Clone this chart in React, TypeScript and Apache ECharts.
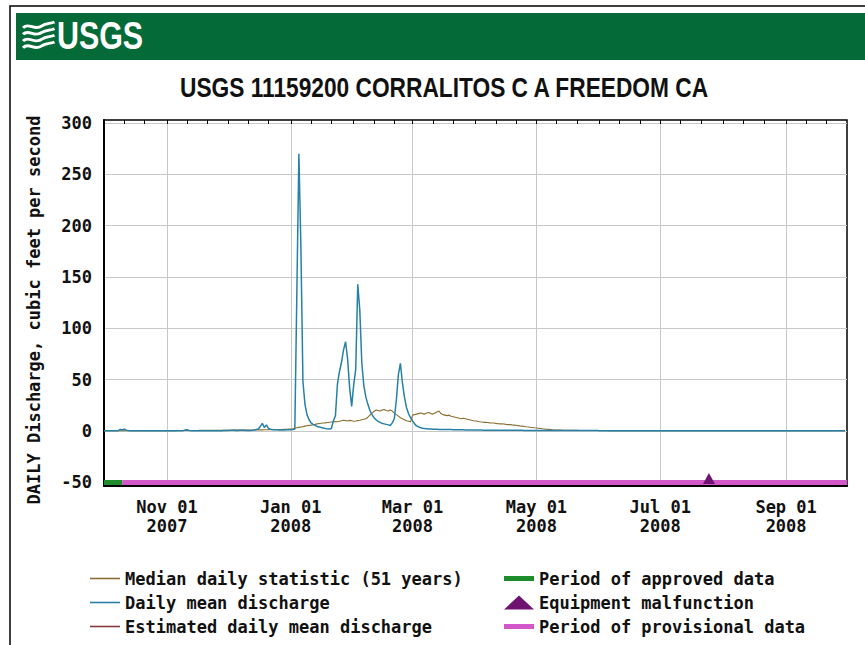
import React, { useEffect, useRef } from "react";
import * as echarts from "echarts";

// ---- Data (daily values, water year Oct 2007 – Sep 2008) ----
const DAY = 86400000;
const START = Date.UTC(2007, 9, 1);
const END = Date.UTC(2008, 9, 1);

// Daily mean discharge (cfs), by month
const meanOct = [0.3,0.3,0.3,0.3,0.3,0.3,0.3,0.4,1.6,1.2,1.8,0.9,0.5,0.4,0.4,0.3,0.3,0.3,0.3,0.3,0.3,0.3,0.3,0.3,0.3,0.3,0.3,0.3,0.3,0.3,0.3];
const meanNov = [0.3,0.3,0.3,0.3,0.3,0.3,0.3,0.3,0.4,1.0,1.4,0.6,0.4,0.3,0.3,0.3,0.3,0.3,0.3,0.3,0.3,0.3,0.3,0.3,0.3,0.3,0.3,0.4,0.5,0.6];
const meanDec = [0.6,0.7,0.8,0.7,0.6,0.6,0.7,0.8,0.7,0.6,0.6,0.6,0.7,1.0,1.5,2.0,4.5,7.5,3.5,6.0,2.5,1.8,1.5,1.3,1.2,1.1,1.0,1.0,1.0,1.2,1.4];
const meanJan = [1.2,1.5,2.0,135,270,178,48,26,16,11,8,6.5,5.5,4.5,4,3.5,3,2.5,2.2,2,2.5,10,15,46,58,67,79,87,70,42,24];
const meanFeb = [45,60,143,118,66,44,33,26,20,16,13,11,9.5,8.5,7.5,7,6.5,6,5.5,8,12,30,55,66,47,33,23,17,13];
const meanMar = [10,7,5,4,3.3,2.8,2.4,2.2,2.0,1.9,1.8,1.7,1.65,1.6,1.55,1.5,1.5,1.45,1.4,1.4,1.35,1.3,1.3,1.25,1.2,1.2,1.15,1.1,1.1,1.05,1.0];
const meanApr = [1.0,1.0,0.95,0.95,0.9,0.9,0.9,0.85,0.85,0.85,0.8,0.8,0.8,0.8,0.75,0.75,0.75,0.75,0.7,0.7,0.7,0.7,0.7,0.7,0.65,0.65,0.65,0.65,0.65,0.6];
const meanMay = [0.6,0.6,0.6,0.6,0.6,0.55,0.55,0.55,0.55,0.55,0.55,0.5,0.5,0.5,0.5,0.5,0.5,0.5,0.5,0.5,0.5,0.45,0.45,0.45,0.45,0.45,0.45,0.45,0.45,0.45,0.45];
const meanJun = [0.4,0.4,0.4,0.4,0.4,0.4,0.4,0.4,0.4,0.4,0.4,0.4,0.4,0.4,0.4,0.4,0.4,0.4,0.4,0.4,0.35,0.35,0.35,0.35,0.35,0.35,0.35,0.35,0.35,0.35];
const meanJul = [0.35,0.35,0.35,0.35,0.35,0.35,0.35,0.35,0.35,0.35,0.3,0.3,0.3,0.3,0.3,0.3,0.3,0.3,0.3,0.3,0.3,0.3,0.3,0.3,0.3,0.3,0.3,0.3,0.3,0.3,0.3];
const meanAug = [0.3,0.3,0.3,0.3,0.3,0.3,0.3,0.3,0.3,0.3,0.3,0.3,0.3,0.3,0.3,0.25,0.25,0.25,0.25,0.25,0.25,0.25,0.25,0.25,0.25,0.25,0.25,0.25,0.25,0.25,0.25];
const meanSep = [0.25,0.25,0.25,0.25,0.25,0.25,0.25,0.25,0.25,0.25,0.25,0.25,0.25,0.25,0.25,0.25,0.25,0.25,0.25,0.25,0.25,0.25,0.25,0.25,0.25,0.25,0.25,0.25,0.25,0.25];

// Median daily statistic (51 years), by month
const medOct = [0.3,0.3,0.3,0.3,0.3,0.3,0.3,0.3,0.3,0.3,0.3,0.3,0.3,0.3,0.3,0.35,0.35,0.35,0.35,0.35,0.35,0.35,0.4,0.4,0.4,0.4,0.4,0.4,0.4,0.4,0.4];
const medNov = [0.4,0.4,0.45,0.45,0.45,0.5,0.5,0.5,0.5,0.55,0.55,0.55,0.6,0.6,0.6,0.6,0.65,0.65,0.65,0.7,0.7,0.7,0.7,0.75,0.75,0.75,0.8,0.8,0.8,0.8];
const medDec = [0.8,0.85,0.85,0.9,0.9,0.9,0.95,0.95,1.0,1.0,1.0,1.05,1.1,1.1,1.1,1.15,1.2,1.2,1.25,1.3,1.3,1.35,1.4,1.4,1.45,1.5,1.55,1.6,1.7,1.8,1.9];
const medJan = [2.0,2.3,2.8,3.2,3.6,4.0,4.3,4.8,5.2,5.5,5.8,6.2,6.5,7.0,7.3,7.6,7.8,8.0,8.3,8.6,8.8,9.0,9.2,9.0,9.5,10.0,10.5,10.2,9.8,10.4,10.0];
const medFeb = [9.5,9.8,10.2,10.5,11.0,11.5,12.0,13.5,15.5,17.5,19.0,20.5,20.0,19.5,20.5,21.0,20.0,19.5,20.5,19.5,17.5,16.0,14.5,13.0,12.0,11.0,10.0,9.5,9.0];
const medMar = [15.5,16.0,16.5,17.0,17.5,17.0,16.5,17.5,18.0,17.0,16.5,17.5,18.5,19.5,17.0,16.0,15.5,15.0,15.5,14.5,14.0,13.5,13.0,12.5,12.0,12.5,12.0,11.5,11.0,10.5,10.0];
const medApr = [9.8,9.5,9.0,8.8,8.5,8.6,8.3,8.0,7.8,7.9,7.5,7.2,7.0,7.1,6.8,6.5,6.3,6.4,6.0,5.8,5.6,5.3,5.0,4.8,4.5,4.2,4.0,3.7,3.5,3.2];
const medMay = [3.0,2.8,2.5,2.2,2.0,1.8,1.6,1.4,1.2,1.1,1.0,0.95,0.9,0.85,0.8,0.8,0.75,0.7,0.7,0.65,0.65,0.6,0.6,0.6,0.55,0.55,0.5,0.5,0.5,0.5,0.5];
const medJun = [0.5,0.5,0.5,0.5,0.5,0.45,0.45,0.45,0.45,0.45,0.45,0.45,0.45,0.45,0.45,0.4,0.4,0.4,0.4,0.4,0.4,0.4,0.4,0.4,0.4,0.4,0.4,0.4,0.4,0.4];
const medJul = [0.4,0.4,0.4,0.4,0.4,0.35,0.35,0.35,0.35,0.35,0.35,0.35,0.35,0.35,0.35,0.35,0.35,0.35,0.35,0.35,0.3,0.3,0.3,0.3,0.3,0.3,0.3,0.3,0.3,0.3,0.3];
const medAug = [0.3,0.3,0.3,0.3,0.3,0.3,0.3,0.3,0.3,0.3,0.3,0.3,0.3,0.3,0.3,0.3,0.3,0.3,0.3,0.3,0.3,0.3,0.3,0.3,0.3,0.3,0.3,0.3,0.3,0.3,0.3];
const medSep = [0.3,0.3,0.3,0.3,0.3,0.3,0.3,0.3,0.3,0.3,0.3,0.3,0.3,0.3,0.3,0.3,0.3,0.3,0.3,0.3,0.3,0.3,0.3,0.3,0.3,0.3,0.3,0.3,0.3,0.3];

// Data-status periods and events
const approvedPeriod = ["2007-10-01", "2007-10-10"];
const provisionalPeriod = ["2007-10-10", "2008-10-01"];
const malfunctionDates = ["2008-07-25"];
const statusLevel = -50;

// Axis ticks / labels
const xLabelDates = ["2007-11-01", "2008-01-01", "2008-03-01", "2008-05-01", "2008-07-01", "2008-09-01"];
const xLabelTexts = ["Nov 01\n2007", "Jan 01\n2008", "Mar 01\n2008", "May 01\n2008", "Jul 01\n2008", "Sep 01\n2008"];
const minorTickDays = [1, 11, 21];
const yTickValues = [-50, 0, 50, 100, 150, 200, 250, 300];

const chartTitle = "USGS 11159200 CORRALITOS C A FREEDOM CA";
const yAxisTitle = "DAILY Discharge, cubic feet per second";
const legendLeft = ["Median daily statistic (51 years)", "Daily mean discharge", "Estimated daily mean discharge"];
const legendRight = ["Period of approved data", "Equipment malfunction", "Period of provisional data"];

const ts = (s: string) => {
  const [y, m, d] = s.split("-").map(Number);
  return Date.UTC(y, m - 1, d);
};

const toSeries = (vals: number[]) => vals.map((v, i) => [START + i * DAY, v]);

const MONO = "'DejaVu Sans Mono', 'Liberation Mono', monospace";
const SANS = "'Liberation Sans', Arial, sans-serif";
const THIN_ICON = "path://M0,0 L30,0 L30,1.6 L0,1.6 Z";
const THICK_ICON = "path://M0,0 L30,0 L30,5 L0,5 Z";

export default function App() {
  const ref = useRef<HTMLDivElement>(null);

  useEffect(() => {
    if (!ref.current) return;
    echarts.graphic.registerShape(
      "usgsWaves",
      echarts.graphic.extendPath(
        "M0,6 C6,0 11,10 18,4 C22,1 26,2 30,0 M0,13 C6,7 11,17 18,11 C22,8 26,9 30,7 M0,20 C6,14 11,24 18,18 C22,15 26,16 30,14 M0,27 C6,21 11,31 18,25 C22,22 26,23 30,21",
        {}
      )
    );
    const chart = echarts.init(ref.current, undefined, { renderer: "svg" });

    const meanAll = [
      ...meanOct, ...meanNov, ...meanDec, ...meanJan, ...meanFeb, ...meanMar,
      ...meanApr, ...meanMay, ...meanJun, ...meanJul, ...meanAug, ...meanSep,
    ];
    const medAll = [
      ...medOct, ...medNov, ...medDec, ...medJan, ...medFeb, ...medMar,
      ...medApr, ...medMay, ...medJun, ...medJul, ...medAug, ...medSep,
    ];

    const minorTicks: number[] = [];
    for (let k = 0; k < 12; k++) {
      for (const d of minorTickDays) minorTicks.push(Date.UTC(2007, 9 + k, d));
    }
    const labelVals = xLabelDates.map(ts);

    const tickAxis = (position: "top" | "bottom") => ({
      type: "value",
      position,
      min: START,
      max: END,
      axisLine: { show: false, onZero: false },
      axisLabel: { show: false },
      splitLine: { show: false },
      axisTick: {
        show: true,
        inside: true,
        length: 4,
        customValues: minorTicks,
        lineStyle: { color: "#000", width: 1 },
      },
    });

    const legendText = { fontFamily: MONO, fontWeight: "bold", fontSize: 17, lineHeight: 17, color: "#111" };

    const option: any = {
      animation: false,
      backgroundColor: "#fff",
      grid: {
        left: 104,
        right: 18,
        top: 120,
        bottom: 645 - 486,
        show: true,
        borderColor: "#000",
        borderWidth: 1.5,
        backgroundColor: "#fff",
      },
      xAxis: [
        {
          type: "value",
          position: "bottom",
          min: START,
          max: END,
          axisLine: { show: true, onZero: false, lineStyle: { color: "#000", width: 2 } },
          axisTick: { show: false, customValues: labelVals },
          axisLabel: {
            customValues: labelVals,
            margin: 11,
            fontFamily: MONO,
            fontWeight: "bold",
            fontSize: 17,
            lineHeight: 19,
            color: "#111",
            formatter: (v: number) => {
              const i = labelVals.indexOf(v);
              return i >= 0 ? xLabelTexts[i] : "";
            },
          },
          splitLine: { show: true, lineStyle: { color: "#c8c8c8", width: 1 } },
        },
        tickAxis("bottom"),
        tickAxis("top"),
      ],
      yAxis: {
        type: "value",
        min: -53.5,
        max: 302.9,
        axisLine: { show: true, onZero: false, lineStyle: { color: "#000", width: 2 } },
        axisTick: { show: false, customValues: yTickValues },
        axisLabel: {
          customValues: yTickValues,
          margin: 12,
          fontFamily: MONO,
          fontWeight: "bold",
          fontSize: 17,
          color: "#111",
        },
        splitLine: { show: true, lineStyle: { color: "#c8c8c8", width: 1 } },
      },
      legend: [
        {
          data: legendLeft.map((name) => ({ name, icon: THIN_ICON })),
          orient: "vertical",
          left: 85,
          top: 565,
          itemWidth: 30,
          itemHeight: 14,
          itemGap: 7,
          selectedMode: false,
          textStyle: legendText,
        },
        {
          data: [
            { name: legendRight[0], icon: THICK_ICON },
            { name: legendRight[1], icon: "triangle", itemStyle: { opacity: 1 } },
            { name: legendRight[2], icon: THICK_ICON },
          ],
          orient: "vertical",
          left: 499,
          top: 565,
          itemWidth: 30,
          itemHeight: 14,
          itemGap: 7,
          selectedMode: false,
          textStyle: legendText,
        },
      ],
      graphic: [
        {
          type: "rect",
          shape: { x: 10, y: 6, width: 900, height: 700 },
          style: { fill: "none", stroke: "#000", lineWidth: 1.5 },
          silent: true,
        },
        {
          type: "rect",
          shape: { x: 16, y: 13, width: 860, height: 47 },
          style: { fill: "#046b38" },
          silent: true,
        },
        {
          type: "usgsWaves",
          x: 23,
          y: 22,
          scaleX: 1.05,
          scaleY: 0.95,
          style: { fill: "none", stroke: "#fff", lineWidth: 3 },
          silent: true,
        },
        {
          type: "text",
          x: 57,
          y: 36,
          scaleX: 0.8,
          style: {
            text: "USGS",
            fill: "#fff",
            font: `bold 38px ${SANS}`,
            textVerticalAlign: "middle",
          },
          silent: true,
        },
        {
          type: "text",
          x: 180,
          y: 87,
          scaleX: 0.842,
          style: {
            text: chartTitle,
            fill: "#111",
            font: `bold 27px ${SANS}`,
            textVerticalAlign: "middle",
          },
          silent: true,
        },
        {
          type: "text",
          x: 34,
          y: 310,
          rotation: Math.PI / 2,
          style: {
            text: yAxisTitle,
            fill: "#111",
            font: `bold 17px ${MONO}`,
            textAlign: "center",
            textVerticalAlign: "middle",
          },
          silent: true,
        },
      ],
      series: [
        {
          name: legendLeft[0],
          type: "line",
          data: toSeries(medAll),
          symbol: "none",
          lineStyle: { color: "#8a6e30", width: 1.1 },
          itemStyle: { color: "#8a6e30" },
          z: 2,
          silent: true,
        },
        {
          name: legendLeft[1],
          type: "line",
          data: toSeries(meanAll),
          symbol: "none",
          lineStyle: { color: "#2581a8", width: 1.5 },
          itemStyle: { color: "#2581a8" },
          z: 3,
          silent: true,
        },
        {
          name: legendLeft[2],
          type: "line",
          data: [],
          symbol: "none",
          lineStyle: { color: "#8b3a3a", width: 1.2 },
          itemStyle: { color: "#8b3a3a" },
          silent: true,
        },
        {
          name: legendRight[0],
          type: "line",
          data: approvedPeriod.map((d) => [ts(d), statusLevel]),
          symbol: "none",
          lineStyle: { color: "#1e8c2a", width: 5 },
          itemStyle: { color: "#1e8c2a" },
          z: 4,
          silent: true,
        },
        {
          name: legendRight[1],
          type: "scatter",
          data: malfunctionDates.map((d) => [ts(d), statusLevel]),
          symbol: "triangle",
          symbolSize: [12, 11],
          symbolOffset: [0, -4],
          itemStyle: { color: "#6e1470", opacity: 1 },
          z: 6,
          silent: true,
        },
        {
          name: legendRight[2],
          type: "line",
          data: provisionalPeriod.map((d) => [ts(d), statusLevel]),
          symbol: "none",
          lineStyle: { color: "#d357c9", width: 5 },
          itemStyle: { color: "#d357c9" },
          z: 4,
          silent: true,
        },
      ],
    };

    chart.setOption(option);
    return () => chart.dispose();
  }, []);

  return (
    <div
      ref={ref}
      style={{ position: "absolute", left: 0, top: 0, width: 865, height: 645 }}
    />
  );
}
